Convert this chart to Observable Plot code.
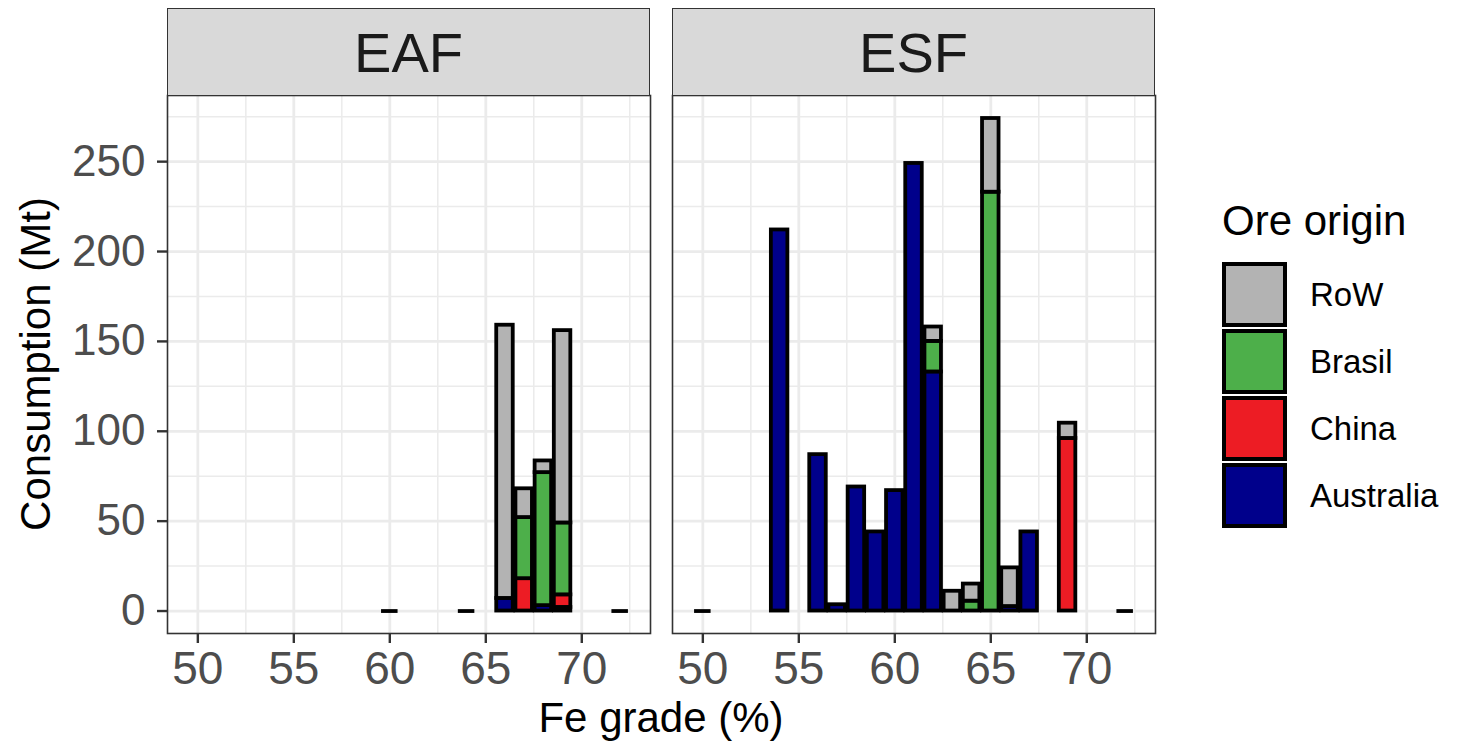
<!DOCTYPE html>
<html>
<head>
<meta charset="utf-8">
<script src="https://cdn.jsdelivr.net/npm/d3@7"></script>
<script src="https://cdn.jsdelivr.net/npm/@observablehq/plot@0.6"></script>
<style>
  body { margin: 0; background: #fff; font-family: "Liberation Sans", Arial, sans-serif; }
  #wrap { position: relative; width: 1466px; height: 747px; overflow: hidden; background: #fff; }
  .panel { position: absolute; top: 0; }
  .strip { position: absolute; top: 8px; height: 88px; background: #d9d9d9; border: 1.5px solid #333;
           box-sizing: border-box; display: flex; align-items: center; justify-content: center;
           font-size: 56px; color: #1a1a1a; z-index: 2; }
  .ytitle { position: absolute; width: 600px; left: -264px; top: 343px; height: 42px; line-height: 42px;
            font-size: 42px; text-align: center; color: #000; transform: rotate(-90deg); transform-origin: 50% 50%; }
  .xtitle { position: absolute; width: 600px; left: 361px; top: 697px; height: 42px; line-height: 42px;
            font-size: 42px; text-align: center; color: #000; }
  .legtitle { position: absolute; left: 1222px; top: 200px; font-size: 42px; line-height: 42px; color: #000; }
  .legrow { position: absolute; left: 1222px; height: 65px; display: flex; align-items: center; }
  .key { width: 65px; height: 65px; box-sizing: border-box; border: 4px solid #000; }
  .leglab { margin-left: 23px; font-size: 33px; color: #000; }
</style>
</head>
<body>
<div id="wrap"></div>
<script>
// ---- data ----
const origins = ["Australia", "China", "Brasil", "RoW"];          // stacking order, bottom to top
const legendOrder = ["RoW", "Brasil", "China", "Australia"];
const originColors = ["#00008b", "#ed1c24", "#4daf4a", "#b3b3b3"];

const eafGrade     = [60, 64, 66, 67, 68, 69, 72];
const eafAustralia = [0, 0, 7, 0, 3, 2, 0];
const eafChina     = [0, 0, 0, 18, 0, 7, 0];
const eafBrasil    = [0, 0, 0, 34, 74, 40, 0];
const eafRoW       = [0, 0, 152, 16, 6.5, 107, 0];

const esfGrade     = [50, 54, 56, 57, 58, 59, 60, 61, 62, 63, 64, 65, 66, 67, 69, 72];
const esfAustralia = [0, 212, 87, 3.5, 69, 44, 67, 249, 133, 0, 0, 0, 2.5, 44, 0, 0];
const esfChina     = [0, 0, 0, 0, 0, 0, 0, 0, 0, 0, 0, 0, 0, 0, 96, 0];
const esfBrasil    = [0, 0, 0, 0, 0, 0, 0, 0, 17, 0, 5.5, 233, 0, 0, 0, 0];
const esfRoW       = [0, 0, 0, 0, 0, 0, 0, 0, 8, 11, 9.5, 41, 21.5, 0, 8.5, 0];

const xTicks = [50, 55, 60, 65, 70];
const xMinor = [52.5, 57.5, 62.5, 67.5, 72.5];
const yTicks = [0, 50, 100, 150, 200, 250];
const yMinor = [25, 75, 125, 175, 225, 275];

const barWidth = 0.86;

function buildRows(grade, series) {
  const rows = [], zeros = [];
  grade.forEach((g, i) => {
    let cum = 0;
    origins.forEach((o, k) => {
      const v = series[k][i];
      if (v > 0) {
        rows.push({origin: o, x1: g - barWidth / 2, x2: g + barWidth / 2, y1: cum, y2: cum + v});
        cum += v;
      }
    });
    if (cum === 0) zeros.push({x1: g - barWidth / 2, x2: g + barWidth / 2});
  });
  return {rows, zeros};
}

const eaf = buildRows(eafGrade, [eafAustralia, eafChina, eafBrasil, eafRoW]);
const esf = buildRows(esfGrade, [esfAustralia, esfChina, esfBrasil, esfRoW]);

const FONT = "Liberation Sans, Arial, sans-serif";

function panel(data, {width, marginLeft, marginRight, showY}) {
  return Plot.plot({
    width, height: 747,
    marginTop: 95, marginBottom: 114, marginLeft, marginRight,
    x: {domain: [48.42, 73.58], label: null},
    y: {domain: [-12.5, 286.8], label: null, axis: showY ? undefined : null},
    color: {domain: origins, range: originColors},
    style: {background: "transparent", fontFamily: FONT, overflow: "visible"},
    marks: [
      Plot.ruleX(xMinor, {stroke: "#ebebeb", strokeWidth: 1.5}),
      Plot.ruleY(yMinor, {stroke: "#ebebeb", strokeWidth: 1.5}),
      Plot.ruleX(xTicks, {stroke: "#ebebeb", strokeWidth: 2.8}),
      Plot.ruleY(yTicks, {stroke: "#ebebeb", strokeWidth: 2.8}),
      Plot.rect(data.rows, {x1: "x1", x2: "x2", y1: "y1", y2: "y2", fill: "origin", stroke: "#000", strokeWidth: 3.8}),
      Plot.ruleY(data.zeros, {y: d => 0, x1: "x1", x2: "x2", stroke: "#000", strokeWidth: 3.8}),
      Plot.frame({stroke: "#333", strokeWidth: 1.6}),
      Plot.axisX({ticks: xTicks, tickSize: 10, tickPadding: 8, fontSize: 46, fill: "#4d4d4d",
                  stroke: "#333", strokeWidth: 2.4, label: null, fontFamily: FONT}),
      showY ? Plot.axisY({ticks: yTicks, tickSize: 10, tickPadding: 12, fontSize: 44, fill: "#4d4d4d",
                  stroke: "#333", strokeWidth: 2.4, label: null, fontFamily: FONT}) : null
    ]
  });
}

const wrap = document.getElementById("wrap");

function addPanel(svg, left) {
  const d = document.createElement("div");
  d.className = "panel";
  d.style.left = left + "px";
  d.appendChild(svg);
  wrap.appendChild(d);
}

addPanel(panel(eaf, {width: 660, marginLeft: 167, marginRight: 10, showY: true}), 0);
addPanel(panel(esf, {width: 500, marginLeft: 12, marginRight: 5, showY: false}), 660);

function addStrip(label, left, width) {
  const s = document.createElement("div");
  s.className = "strip";
  s.style.left = left + "px";
  s.style.width = width + "px";
  s.textContent = label;
  wrap.appendChild(s);
}
addStrip("EAF", 167, 483);
addStrip("ESF", 672, 483);

const yt = document.createElement("div");
yt.className = "ytitle"; yt.textContent = "Consumption (Mt)";
wrap.appendChild(yt);
const xt = document.createElement("div");
xt.className = "xtitle"; xt.textContent = "Fe grade (%)";
wrap.appendChild(xt);

const lt = document.createElement("div");
lt.className = "legtitle"; lt.textContent = "Ore origin";
wrap.appendChild(lt);
legendOrder.forEach((o, i) => {
  const r = document.createElement("div");
  r.className = "legrow";
  r.style.top = (262 + i * 67) + "px";
  const k = document.createElement("div");
  k.className = "key";
  k.style.background = originColors[origins.indexOf(o)];
  const l = document.createElement("span");
  l.className = "leglab"; l.textContent = o;
  r.appendChild(k); r.appendChild(l);
  wrap.appendChild(r);
});
</script>
</body>
</html>
